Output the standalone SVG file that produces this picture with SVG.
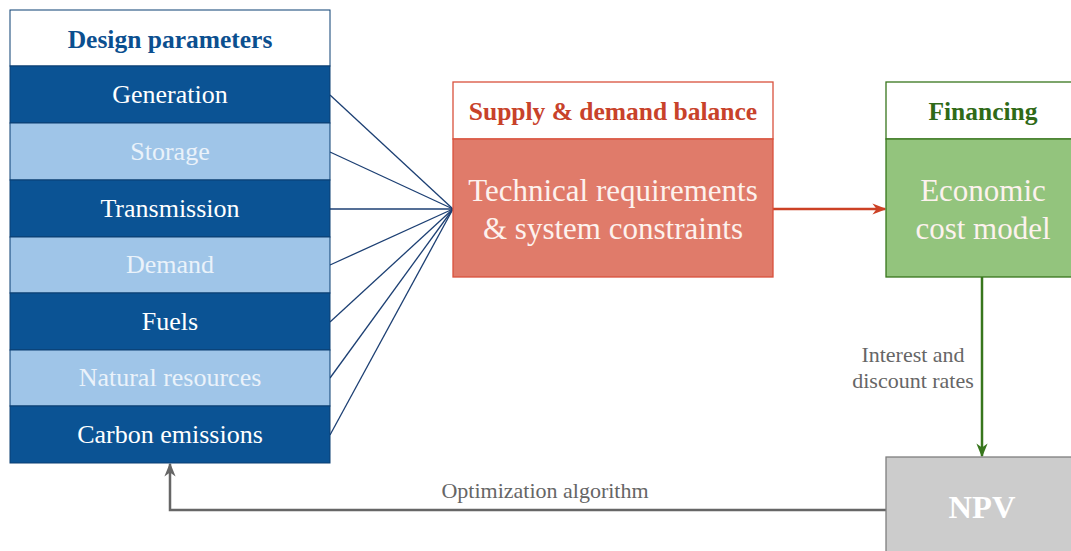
<svg xmlns="http://www.w3.org/2000/svg" width="1071" height="551" viewBox="0 0 1071 551">
<style>
text{font-family:"Liberation Serif","Times New Roman",serif;text-anchor:middle}
.hdr{font-weight:bold;font-size:25.5px}
.row{font-size:26px;fill:#ffffff}
.lrow{font-size:26px;fill:#eaf2fa}
.dark{fill:#0b5394;stroke:#0a3f73;stroke-width:1}
.light{fill:#9fc5e8;stroke:#0a3f73;stroke-width:1}
.body{font-size:31px;fill:#fdf2ee}
.lbl{font-size:22px;fill:#666666}
.fan{stroke:#1c3f73;stroke-width:1.3;fill:none}
</style>
<defs>
<marker id="arR" viewBox="0 0 10 10" refX="9" refY="5" markerWidth="14" markerHeight="14" orient="auto" markerUnits="userSpaceOnUse"><path d="M0,1 L10,5 L0,9 L3,5 z" fill="#cc4125"/></marker>
<marker id="arG" viewBox="0 0 10 10" refX="9" refY="5" markerWidth="14" markerHeight="14" orient="auto" markerUnits="userSpaceOnUse"><path d="M0,1 L10,5 L0,9 L3,5 z" fill="#38761d"/></marker>
<marker id="arK" viewBox="0 0 10 10" refX="9" refY="5" markerWidth="14" markerHeight="14" orient="auto" markerUnits="userSpaceOnUse"><path d="M0,1 L10,5 L0,9 L3,5 z" fill="#666666"/></marker>
</defs>

<g id="connectors">
<line class="fan" x1="330" y1="95" x2="453" y2="209"/>
<line class="fan" x1="330" y1="152" x2="453" y2="209"/>
<line class="fan" x1="330" y1="209" x2="453" y2="209"/>
<line class="fan" x1="330" y1="265" x2="453" y2="209"/>
<line class="fan" x1="330" y1="322" x2="453" y2="209"/>
<line class="fan" x1="330" y1="378" x2="453" y2="209"/>
<line class="fan" x1="330" y1="435" x2="453" y2="209"/>
<line x1="773" y1="209" x2="885" y2="209" stroke="#cc4125" stroke-width="2.5" marker-end="url(#arR)"/>
<line x1="982" y1="277" x2="982" y2="456" stroke="#38761d" stroke-width="2.5" marker-end="url(#arG)"/>
<polyline points="886,510 170,510 170,464" fill="none" stroke="#666666" stroke-width="2.5" marker-end="url(#arK)"/>
<text class="lbl" x="913" y="362">Interest and</text>
<text class="lbl" x="913" y="388">discount rates</text>
<text class="lbl" x="545" y="498">Optimization algorithm</text>
</g>

<g id="design-parameters">
<rect x="10" y="10" width="320" height="56" fill="#ffffff" stroke="#0a3f73" stroke-width="1"/>
<text class="hdr" x="170" y="48" fill="#0b4f8f">Design parameters</text>
<rect class="dark" x="10" y="66" width="320" height="57"/>
<text class="row" x="170" y="103">Generation</text>
<rect class="light" x="10" y="123" width="320" height="57"/>
<text class="lrow" x="170" y="160">Storage</text>
<rect class="dark" x="10" y="180" width="320" height="57"/>
<text class="row" x="170" y="217">Transmission</text>
<rect class="light" x="10" y="237" width="320" height="56"/>
<text class="lrow" x="170" y="273">Demand</text>
<rect class="dark" x="10" y="293" width="320" height="57"/>
<text class="row" x="170" y="330">Fuels</text>
<rect class="light" x="10" y="350" width="320" height="56"/>
<text class="lrow" x="170" y="386">Natural resources</text>
<rect class="dark" x="10" y="406" width="320" height="57"/>
<text class="row" x="170" y="443">Carbon emissions</text>
</g>

<g id="supply-demand">
<rect x="453" y="82" width="320" height="57" fill="#ffffff" stroke="#d9513c" stroke-width="1.3"/>
<text class="hdr" x="613" y="120" fill="#c8422a">Supply &amp; demand balance</text>
<rect x="453" y="139" width="320" height="138" fill="#e07b6a" stroke="#d9513c" stroke-width="1.3"/>
<text class="body" x="613" y="201">Technical requirements</text>
<text class="body" x="613" y="239">&amp; system constraints</text>
</g>

<g id="financing">
<rect x="886" y="82" width="200" height="57" fill="#ffffff" stroke="#38761d" stroke-width="1.3"/>
<text class="hdr" x="983" y="120" fill="#2f6a17">Financing</text>
<rect x="886" y="139" width="200" height="138" fill="#93c47d" stroke="#38761d" stroke-width="1.3"/>
<text class="body" x="983" y="201" fill="#f3f9ef">Economic</text>
<text class="body" x="983" y="239" fill="#f3f9ef">cost model</text>
</g>

<g id="npv">
<rect x="886" y="457" width="200" height="110" fill="#cccccc" stroke="#7f7f7f" stroke-width="1.3"/>
<text x="982" y="518" font-size="32.5" font-weight="bold" fill="#ffffff">NPV</text>
</g>
</svg>
